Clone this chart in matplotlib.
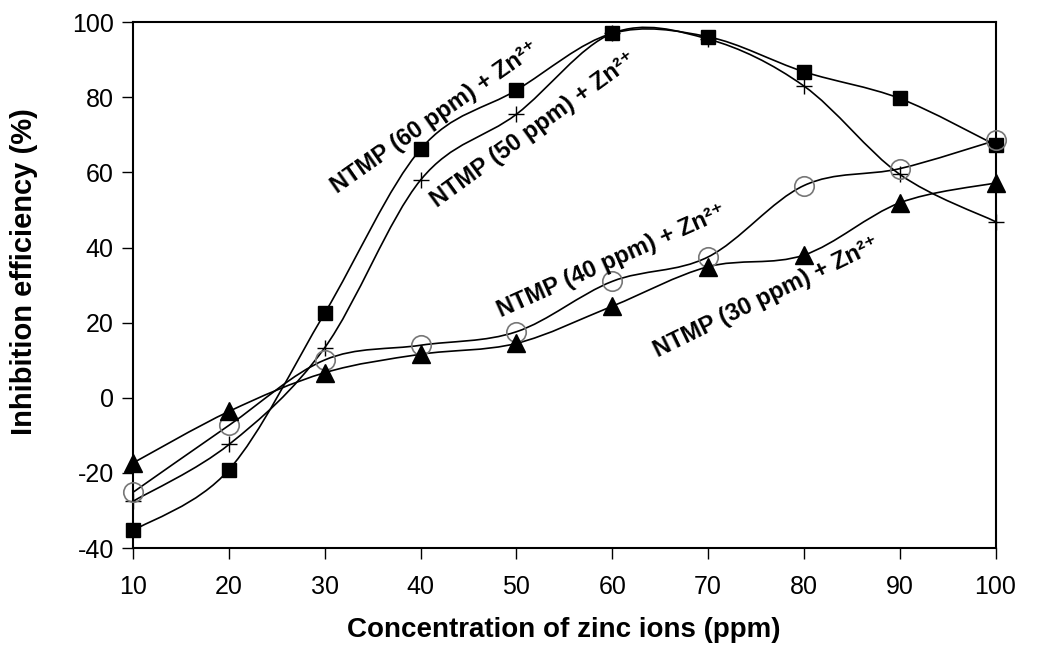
import numpy as np
import matplotlib
matplotlib.use("Agg")
import matplotlib.pyplot as plt
from matplotlib.path import Path
from matplotlib.patches import PathPatch

plt.rcParams['font.family'] = ['Liberation Sans', 'DejaVu Sans']
plt.rcParams['axes.unicode_minus'] = False

# zinc concentration (ppm)
conc = [10, 20, 30, 40, 50, 60, 70, 80, 90, 100]

# inhibition efficiency (%) for each NTMP dose
ie_60 = [-35.3, -19.1, 22.6, 66.2, 81.9, 97.0, 96.1, 86.8, 79.7, 67.3]
ie_50 = [-27.5, -12.4, 13.4, 58.0, 75.5, 97.0, 95.5, 83.0, 59.5, 46.9]
ie_40 = [-25.1, -7.3, 10.1, 14.0, 17.6, 31.0, 37.5, 56.5, 61.0, 68.5]
ie_30 = [-17.3, -3.6, 6.7, 11.6, 14.5, 24.4, 34.9, 38.0, 51.9, 57.2]

labels = ['NTMP (60 ppm) + Zn\u00b2\u207a', 'NTMP (50 ppm) + Zn\u00b2\u207a',
          'NTMP (40 ppm) + Zn\u00b2\u207a', 'NTMP (30 ppm) + Zn\u00b2\u207a']


def smooth_path(x, y):
    # bezier segments like a spreadsheet "smoothed line"
    p = np.column_stack([x, y]).astype(float)
    n = len(p)
    verts = [p[0]]
    codes = [Path.MOVETO]
    for i in range(n - 1):
        p0 = p[i - 1] if i > 0 else p[i]
        p3 = p[i + 2] if i + 2 < n else p[i + 1]
        c1 = p[i] + (p[i + 1] - p0) / 6
        c2 = p[i + 1] - (p3 - p[i]) / 6
        verts += [c1, c2, p[i + 1]]
        codes += [Path.CURVE4] * 3
    return Path(verts, codes)


fig = plt.figure(figsize=(10.49, 6.51), dpi=100)
ax = fig.add_axes([0.127, 0.158, 0.822, 0.808])

for ys in [ie_60, ie_50, ie_40, ie_30]:
    ax.add_patch(PathPatch(smooth_path(conc, ys), fill=False, ec='black', lw=1.2, zorder=2))

ax.plot(conc, ie_60, ls='none', marker='s', ms=10, mfc='black', mec='black', zorder=3, clip_on=False)
ax.plot(conc, ie_50, ls='none', marker='+', ms=12, mew=1.0, color='black', zorder=3, clip_on=False)
ax.plot(conc, ie_40, ls='none', marker='o', ms=14, mfc='none', mec='#777777', mew=1.2, zorder=3, clip_on=False)
ax.plot(conc, ie_30, ls='none', marker='^', ms=13, mfc='black', mec='black', zorder=3, clip_on=False)

ax.set_xlim(10, 100)
ax.set_ylim(-40, 100)
ax.set_xticks(conc)
ax.set_yticks(np.arange(-40, 101, 20))
ax.tick_params(direction='out', length=8, width=1, labelsize=18)
ax.tick_params(axis='x', pad=11)
ax.tick_params(axis='y', pad=6)
for s in ax.spines.values():
    s.set_linewidth(1.5)

ax.set_xlabel('Concentration of zinc ions (ppm)', fontsize=20, fontweight='bold', va='center')
ax.set_ylabel('Inhibition efficiency (%)', fontsize=21, fontweight='bold', va='center')
ax.xaxis.set_label_coords(0.499, -0.156)
ax.yaxis.set_label_coords(-0.127, 0.525)

txt = dict(fontsize=17, fontweight='bold', ha='center', va='center', rotation_mode='anchor')
ax.text(41.5, 74.7, labels[0], rotation=35, **txt)
ax.text(51.8, 71.3, labels[1], rotation=36, **txt)
ax.text(59.9, 36.4, labels[2], rotation=24, **txt)
ax.text(76.1, 26.8, labels[3], rotation=26, **txt)

plt.savefig('out.png', dpi=100)
